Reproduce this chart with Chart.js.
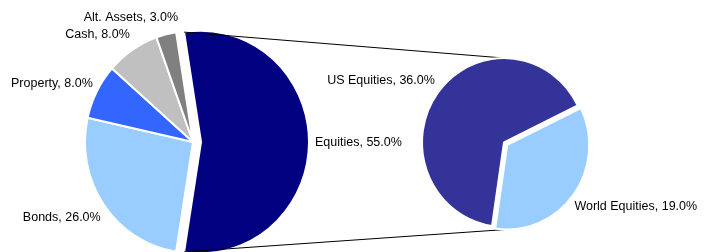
<!DOCTYPE html>
<html><head><meta charset="utf-8">
<script src="https://cdn.jsdelivr.net/npm/chart.js@4.4.1/dist/chart.umd.min.js"></script>
<style>
html,body{margin:0;padding:0;background:#fff;}
#wrap{position:relative;width:704px;height:252px;overflow:hidden;background:#fff}
canvas{position:absolute;left:0;top:0}
</style>
</head><body>
<div id="wrap"><canvas id="main" width="704" height="252"></canvas><canvas id="sub" width="704" height="252"></canvas></div>
<script>
// ---- data ----
const mainLabels = ['Equities', 'Bonds', 'Property', 'Cash', 'Alt. Assets'];
const mainValues = [55.0, 26.0, 8.0, 8.0, 3.0];
const subLabels = ['US Equities', 'World Equities'];
const subValues = [36.0, 19.0];

// ---- style ----
const mainColors = ['#000080', '#99CCFF', '#3366FF', '#C0C0C0', '#808080'];
const subColors = ['#333399', '#99CCFF'];
const mainExplode = [8, 0, 0, 0, 0];
const subExplode = [0, 4];
const Y_STRETCH = 1.03;
const FONT = '12.5px "Liberation Sans", Arial, sans-serif';

const sum = a => a.reduce((s, v) => s + v, 0);

function edgePoint(arc, ang, shift) {
  const mid = (arc.startAngle + arc.endAngle) / 2;
  const s = shift || 0;
  const cx = arc.x + Math.cos(mid) * s, cy = arc.y + Math.sin(mid) * s;
  const r = arc.outerRadius;
  const px = cx + Math.cos(ang) * r, py = cy + Math.sin(ang) * r;
  return { x: px, y: arc.y + (py - arc.y) * Y_STRETCH };
}

// stretches the pie slightly vertically and explodes chosen slices
function pieStyle(explode) {
  return {
    id: 'pieStyle',
    beforeDatasetsDraw(chart) {
      const arcs = chart.getDatasetMeta(0).data;
      arcs.forEach((arc, i) => {
        if (explode[i] && !arc._exploded) {
          const baseDraw = arc.draw;
          arc._exploded = true;
          arc.draw = function (ctx, area) {
            const mid = (this.startAngle + this.endAngle) / 2;
            ctx.save();
            ctx.translate(Math.cos(mid) * explode[i], Math.sin(mid) * explode[i]);
            baseDraw.call(this, ctx, area);
            ctx.restore();
          };
        }
      });
      const a = arcs[0];
      const ctx = chart.ctx;
      ctx.save();
      ctx.translate(0, a.y); ctx.scale(1, Y_STRETCH); ctx.translate(0, -a.y);
    },
    afterDatasetsDraw(chart) { chart.ctx.restore(); }
  };
}

function labelPlugin(labels, values, explode, layout) {
  return {
    id: 'sliceLabels',
    afterDraw(chart) {
      const ctx = chart.ctx;
      const arcs = chart.getDatasetMeta(0).data;
      ctx.save();
      ctx.font = FONT;
      ctx.fillStyle = '#000';
      ctx.textBaseline = 'middle';
      arcs.forEach((arc, i) => {
        const mid = (arc.startAngle + arc.endAngle) / 2;
        const p = edgePoint(arc, mid, explode[i]);
        const L = layout[i];
        ctx.textAlign = L.align;
        ctx.fillText(labels[i] + ', ' + values[i].toFixed(1) + '%', p.x + L.dx, p.y + L.dy);
      });
      ctx.restore();
    }
  };
}

const mainLayout = [
  { align: 'left', dx: 6, dy: 1 },
  { align: 'right', dx: -3, dy: 13 },
  { align: 'right', dx: -4, dy: -7.5 },
  { align: 'right', dx: -2.5, dy: -15 },
  { align: 'right', dx: 12, dy: -17 }
];
const subLayout = [
  { align: 'right', dx: -3, dy: -12.5 },
  { align: 'left', dx: 1, dy: 11.5 }
];

const mainTotal = sum(mainValues);
const splitDeg = mainValues[0] / mainTotal * 360;

const mainChart = new Chart(document.getElementById('main'), {
  type: 'pie',
  data: {
    labels: mainLabels,
    datasets: [{
      data: mainValues,
      backgroundColor: mainColors,
      borderColor: '#ffffff',
      borderWidth: 2,
      clip: false
    }]
  },
  options: {
    responsive: false,
    animation: false,
    events: [],
    radius: 108,
    rotation: -(splitDeg - 180) / 2,
    layout: { padding: { left: 93, right: 411, top: 42, bottom: 10 } },
    plugins: { legend: { display: false }, tooltip: { enabled: false } }
  },
  plugins: [pieStyle(mainExplode), labelPlugin(mainLabels, mainValues, mainExplode, mainLayout)]
});

const connectors = {
  id: 'connectors',
  beforeDatasetsDraw(chart) {
    const eq = mainChart.getDatasetMeta(0).data[0];
    const sub = chart.getDatasetMeta(0).data;
    const p1 = edgePoint(eq, eq.startAngle, mainExplode[0]);
    const p2 = edgePoint(eq, eq.endAngle, mainExplode[0]);
    const q1 = edgePoint(sub[0], -Math.PI / 2, subExplode[0]);
    const q2 = edgePoint(sub[1], Math.PI / 2, subExplode[1]);
    const ctx = chart.ctx;
    ctx.save();
    ctx.strokeStyle = '#000';
    ctx.lineWidth = 1;
    ctx.beginPath();
    ctx.moveTo(p1.x, p1.y); ctx.lineTo(q1.x, q1.y);
    ctx.moveTo(p2.x, p2.y); ctx.lineTo(q2.x, q2.y);
    ctx.stroke();
    ctx.restore();
  }
};

const subChart = new Chart(document.getElementById('sub'), {
  type: 'pie',
  data: {
    labels: subLabels,
    datasets: [{
      data: subValues,
      backgroundColor: subColors,
      borderColor: '#ffffff',
      borderWidth: 2,
      clip: false
    }]
  },
  options: {
    responsive: false,
    animation: false,
    events: [],
    radius: 82,
    rotation: 188.4,
    layout: { padding: { left: 404, right: 100, top: 42.5, bottom: 9.5 } },
    plugins: { legend: { display: false }, tooltip: { enabled: false } }
  },
  plugins: [connectors, pieStyle(subExplode), labelPlugin(subLabels, subValues, subExplode, subLayout)]
});
</script>
</body></html>
